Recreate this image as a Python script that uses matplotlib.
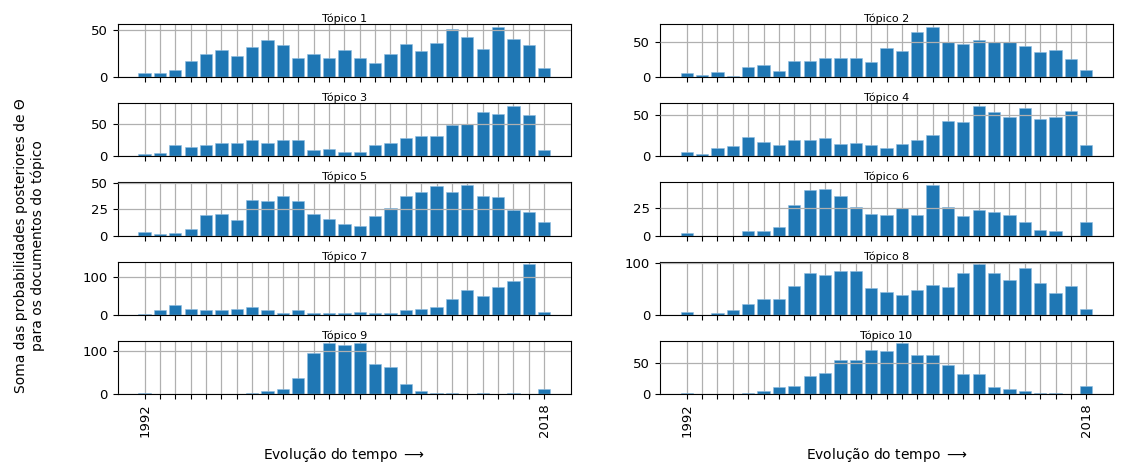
import numpy as np
import matplotlib.pyplot as plt
from matplotlib.ticker import MultipleLocator

years = np.arange(1992, 2019)

t1 = [5, 5, 8, 17, 25, 29, 23, 32, 40, 34, 21, 25, 21, 29, 21, 15, 25, 36, 28, 37, 52, 43, 30, 54, 41, 34, 10]
t2 = [6, 3, 7.5, 1.5, 15, 17.5, 8.5, 23, 23, 27, 27, 27, 21, 41, 37, 63, 71, 49, 47, 52, 50, 49, 44, 35, 38, 25, 10]
t3 = [3.6, 4.6, 17, 15, 17, 20, 20, 25.5, 20, 24.5, 25.5, 10, 12, 6.6, 6.6, 17, 20, 27.5, 32, 30.6, 48.5, 50, 68, 65, 77.5, 64, 10]
t4 = [5, 3, 10, 13, 24, 18, 14, 20, 19.5, 22.5, 15.5, 16, 14, 10, 15.5, 19.5, 25.5, 42.5, 41.5, 61.5, 54, 48, 59, 45.5, 48, 55.5, 14]
t5 = [3.2, 1.3, 2.5, 6, 19.7, 21, 15, 33.8, 32.8, 37.6, 32.8, 21, 16.2, 11.1, 9.2, 19, 26, 37.6, 41.7, 47, 41.7, 48.4, 37.6, 36.6, 24.2, 23, 12.7]
t6 = [2.7, 0, 0, 0, 4.2, 4.2, 7.4, 27, 40.8, 41.4, 35, 26, 19.6, 18.5, 24.4, 18.5, 45.2, 26, 17.9, 23.2, 20.8, 18.5, 11.9, 4.8, 4.2, 0, 12.2]
t7 = [2.6, 14, 25, 16, 11.5, 11.5, 16, 20, 11.5, 6, 11.5, 6, 6, 6, 8, 6, 6, 11.5, 15, 21, 43, 66, 49, 74, 88.5, 133.6, 8]
t8 = [4.5, 0, 3.8, 8.3, 20, 30, 30, 55, 80.8, 77, 83.3, 83.3, 51, 44, 37.8, 47.4, 57, 54, 80, 96.8, 80, 67.3, 89.7, 61.5, 41.7, 55, 11]
t9 = [3, 0, 0, 0, 0, 0, 0, 3, 6, 11.6, 37, 96, 118, 115, 118, 70.5, 63.6, 23, 6, 3, 3, 0, 3, 0, 3, 0, 11.6]
t10 = [2, 0, 0, 0, 1.6, 4.3, 10.8, 12.9, 29.6, 33.9, 55.4, 54.3, 71.5, 68.8, 81.7, 62.4, 63.4, 47.3, 32.3, 32.3, 10.8, 8, 4.3, 2, 2, 0, 12.9]

topics = [t1, t2, t3, t4, t5, t6, t7, t8, t9, t10]
titles = ["Tópico %d" % (i + 1) for i in range(10)]
ysteps = [50, 50, 50, 50, 25, 25, 100, 100, 100, 50]

fig, axes = plt.subplots(5, 2, figsize=(11.21, 4.73), dpi=100)
fig.subplots_adjust(left=0.105, right=0.993, top=0.949, bottom=0.167,
                    wspace=0.196, hspace=0.49)

for i, ax in enumerate(axes.flatten()):
    vals = topics[i]
    ax.bar(years, vals, width=0.8, color='#1f77b4', edgecolor='#8fbde0', linewidth=0.4)
    ax.set_title(titles[i], fontsize=8, pad=-1)
    ax.set_xlim(1990.25, 2019.75)
    ax.yaxis.set_major_locator(MultipleLocator(ysteps[i]))
    ax.set_xticks(years)
    ax.grid(True, color='#b0b0b0', linewidth=0.9)
    ax.xaxis.set_zorder(0.5)
    ax.yaxis.set_zorder(2.5)
    ax.tick_params(axis='y', labelsize=9.5)
    row = i // 2
    if row == 4:
        labels = ['' for _ in years]
        labels[0] = '1992'
        labels[-1] = '2018'
        ax.set_xticklabels(labels, rotation=90, fontsize=9.5)
        ax.set_xlabel(r"Evolução do tempo $\longrightarrow$", fontsize=10, labelpad=6)
    else:
        ax.set_xticklabels([])

fig.text(0.026, 0.48, "Soma das probabilidades posteriores de Θ\npara os documentos do tópico",
         rotation=90, ha='center', va='center', fontsize=10, multialignment='center')

plt.savefig('out.png', dpi=100)
